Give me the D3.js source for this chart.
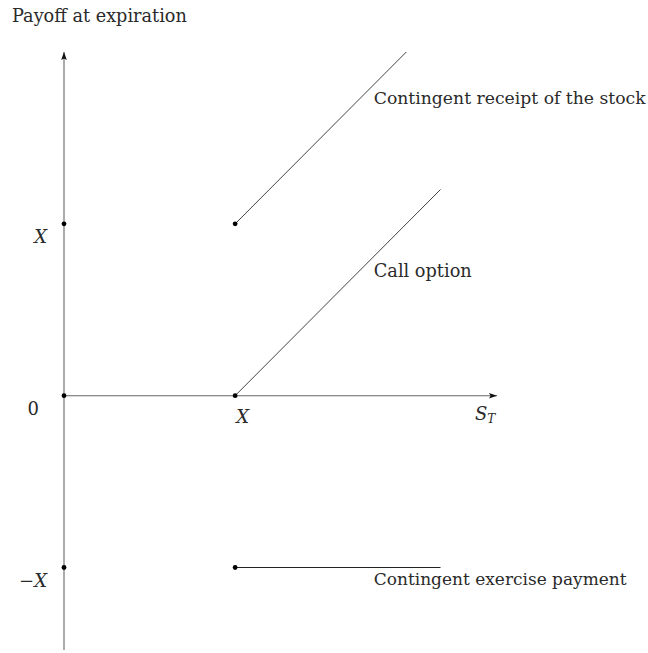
<!DOCTYPE html>
<html>
<head>
<meta charset="utf-8">
<script src="https://cdn.jsdelivr.net/npm/d3@7"></script>
<style>
  html, body { margin: 0; padding: 0; background: #fff; }
  svg text { font-family: "DejaVu Serif", "Liberation Serif", serif; fill: #2a2a2a; }
</style>
</head>
<body>
<svg id="chart" width="648" height="653"></svg>
<script>
// Payoff lines in units of the strike X (S_T on x, payoff on y)
const stockReceipt = [[1, 1], [2, 2]];
const callOption = [[1, 0], [2.2, 1.2]];
const exercisePayment = [[1, -1], [2.2, -1]];
const markedPoints = [[0, 1], [0, 0], [0, -1], [1, 1], [1, 0], [1, -1]];
const yTickLabels = [{v: 1, t: "X"}, {v: 0, t: "0"}, {v: -1, t: "−X"}];
const lineLabels = [
  {text: "Contingent receipt of the stock", at: [1.81, 1.7], width: 272},
  {text: "Call option", at: [1.81, 0.69], width: 98},
  {text: "Contingent exercise payment", at: [1.81, -1.1], width: 253}
];

const svg = d3.select("#chart");
const x = d3.scaleLinear().domain([0, 2.53]).range([64, 497]);
const y = d3.scaleLinear().domain([-1.48, 2.0]).range([650, 52]);

const defs = svg.append("defs");
defs.append("marker")
  .attr("id", "arrow").attr("viewBox", "0 0 10 10")
  .attr("refX", 10).attr("refY", 5)
  .attr("markerWidth", 8).attr("markerHeight", 8)
  .attr("markerUnits", "userSpaceOnUse")
  .attr("orient", "auto")
  .append("path").attr("d", "M0,1.5 L10,5 L0,8.5 L2,5 Z").attr("fill", "#111");

// axes
svg.append("line")
  .attr("x1", x(0)).attr("y1", y(-1.48)).attr("x2", x(0)).attr("y2", y(2.0))
  .attr("stroke", "#666").attr("stroke-width", 1.1).attr("marker-end", "url(#arrow)");
svg.append("line")
  .attr("x1", x(0)).attr("y1", y(0)).attr("x2", x(2.53)).attr("y2", y(0))
  .attr("stroke", "#666").attr("stroke-width", 1.1).attr("marker-end", "url(#arrow)");

// payoff lines
const line = d3.line().x(d => x(d[0])).y(d => y(d[1]));
[stockReceipt, callOption].forEach(seg => {
  svg.append("path").attr("d", line(seg)).attr("fill", "none")
    .attr("stroke", "#444").attr("stroke-width", 1);
});
svg.append("path").attr("d", line(exercisePayment)).attr("fill", "none")
  .attr("stroke", "#222").attr("stroke-width", 1.1);

// marked points
svg.selectAll("circle.pt").data(markedPoints).join("circle")
  .attr("class", "pt")
  .attr("cx", d => x(d[0])).attr("cy", d => y(d[1])).attr("r", 2.4)
  .attr("fill", "#000");

// fit a label to a target width by adjusting font size
function fitText(sel, width) {
  const w = sel.node().getComputedTextLength();
  const fs = parseFloat(sel.attr("font-size"));
  sel.attr("font-size", fs * width / w);
}

// title
const title = svg.append("text").attr("x", 12).attr("y", 22)
  .attr("font-size", 15).text("Payoff at expiration");
fitText(title, 175);

// y labels
yTickLabels.forEach(d => {
  const t = svg.append("text")
    .attr("x", 47).attr("y", y(d.v) + 19)
    .attr("text-anchor", "end").attr("font-size", 18);
  if (d.t === "0") {
    t.attr("x", 39).text("0");
  } else if (d.t === "X") {
    t.append("tspan").attr("font-style", "italic").text("X");
  } else {
    t.append("tspan").text("−");
    t.append("tspan").attr("font-style", "italic").text("X");
  }
});

// x labels
svg.append("text").attr("x", x(1) + 1).attr("y", y(0) + 27)
  .attr("font-size", 18).attr("font-style", "italic").text("X");
const st = svg.append("text").attr("x", 475).attr("y", y(0) + 24)
  .attr("font-size", 18);
st.append("tspan").attr("font-style", "italic").text("S");
st.append("tspan").attr("font-style", "italic").attr("font-size", 12)
  .attr("dy", 3).text("T");

// line labels
lineLabels.forEach(d => {
  const t = svg.append("text").attr("x", x(d.at[0])).attr("y", y(d.at[1]))
    .attr("font-size", 15).text(d.text);
  fitText(t, d.width);
});
</script>
</body>
</html>
